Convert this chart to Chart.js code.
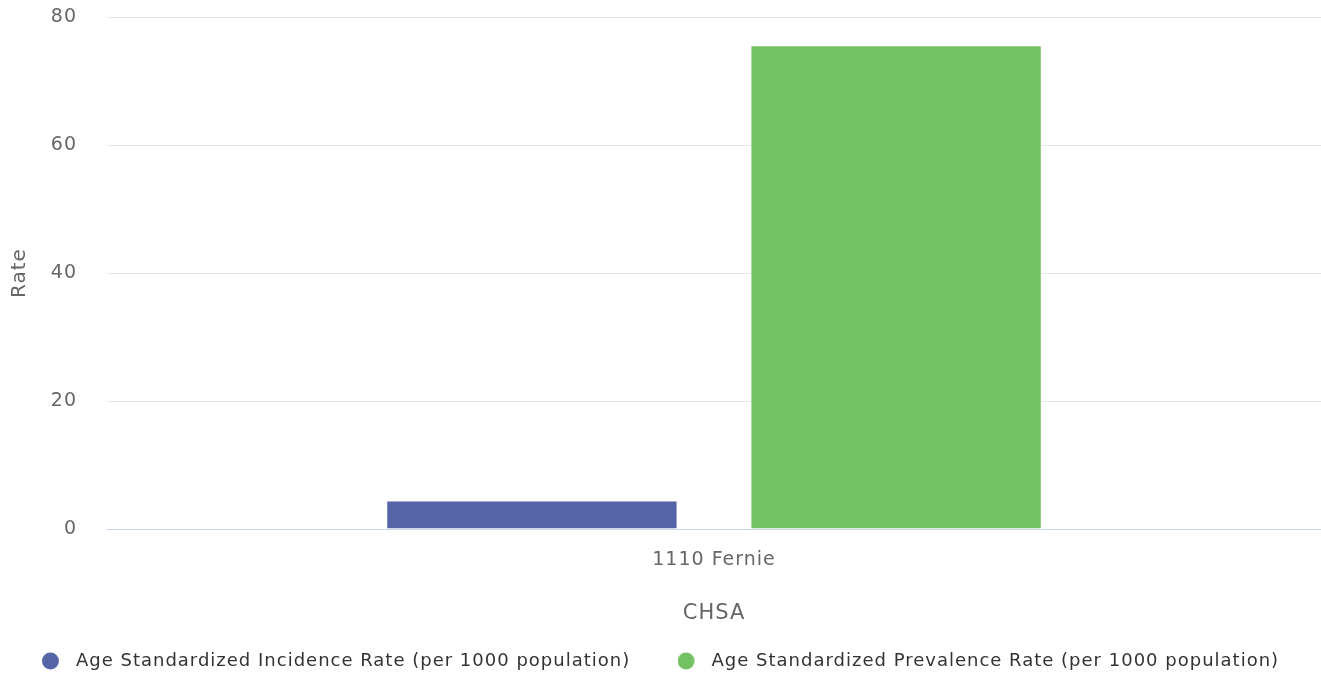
<!DOCTYPE html>
<html>
<head>
<meta charset="utf-8">
<script src="https://cdn.jsdelivr.net/npm/chart.js@4"></script>
<style>
  html, body { margin: 0; padding: 0; background: #fff; }
  #wrap { width: 1321px; height: 677px; }
</style>
</head>
<body>
<div id="wrap"><canvas id="chart"></canvas></div>
<script>
const categories = ['1110 Fernie'];
const incidenceRate = [4.45];
const prevalenceRate = [75.6];
const seriesNames = [
  'Age Standardized Incidence Rate (per 1000 population)',
  'Age Standardized Prevalence Rate (per 1000 population)'
];
const seriesColors = ['#5564a7', '#73c163'];
const yTicks = [0, 20, 40, 60, 80];

const FONT = '"DejaVu Sans", Verdana, sans-serif';

// legend marker: 17px dot on the left of a 25px wide box
function dot(color) {
  const c = document.createElement('canvas');
  c.width = 25; c.height = 18;
  const g = c.getContext('2d');
  g.fillStyle = color;
  g.beginPath();
  g.arc(8.5, 9, 8.5, 0, Math.PI * 2);
  g.fill();
  return c;
}
const dots = seriesColors.map(dot);

// spread letters a little, like the original
const spacing = {
  id: 'spacing',
  beforeInit(chart) { chart.ctx.letterSpacing = '1px'; },
  beforeLayout(chart) { chart.ctx.letterSpacing = '1px'; },
  beforeDraw(chart) { chart.ctx.letterSpacing = '1px'; }
};

new Chart(document.getElementById('chart'), {
  type: 'bar',
  data: {
    labels: categories,
    datasets: [
      {
        label: seriesNames[0],
        data: incidenceRate,
        backgroundColor: seriesColors[0],
        borderColor: '#ffffff',
        borderWidth: 1
      },
      {
        label: seriesNames[1],
        data: prevalenceRate,
        backgroundColor: seriesColors[1],
        borderColor: '#ffffff',
        borderWidth: 1
      }
    ]
  },
  plugins: [spacing],
  options: {
    responsive: true,
    maintainAspectRatio: false,
    animation: false,
    categoryPercentage: 0.6,
    barPercentage: 0.8,
    layout: { padding: { top: 17, right: 0, left: 0, bottom: -3 } },
    plugins: {
      tooltip: { enabled: false },
      legend: {
        position: 'bottom',
        labels: {
          usePointStyle: true,
          pointStyleWidth: 25,
          boxHeight: 18,
          padding: 7,
          color: '#333333',
          font: { family: FONT, size: 18 },
          generateLabels(chart) {
            const items = Chart.defaults.plugins.legend.labels.generateLabels(chart);
            items.forEach((it, i) => {
              it.pointStyle = dots[i];
              // wider gap between the two entries
              if (i < items.length - 1) it.text += '      ';
            });
            return items;
          }
        }
      }
    },
    scales: {
      x: {
        afterFit(scale) { scale.height = 116; },
        grid: { display: false },
        border: { display: true, color: '#ccd6eb', width: 1 },
        ticks: {
          color: '#666666',
          padding: 12,
          font: { family: FONT, size: 19 }
        },
        title: {
          display: true,
          text: 'CHSA',
          color: '#666666',
          padding: { top: 0, bottom: 19 },
          font: { family: FONT, size: 21 }
        }
      },
      y: {
        min: 0,
        max: 80,
        afterBuildTicks(scale) { scale.ticks = yTicks.map(v => ({ value: v })); },
        afterFit(scale) { scale.width = 107; },
        grid: {
          color: ctx => ctx.tick && ctx.tick.value === 0 ? '#ccd6eb' : '#e6e6e6',
          tickColor: 'rgba(0,0,0,0)',
          tickLength: 25
        },
        border: { display: false },
        ticks: {
          color: '#666666',
          padding: 5,
          font: { family: FONT, size: 19 }
        },
        title: {
          display: true,
          text: 'Rate',
          color: '#666666',
          padding: { top: 8, bottom: 0 },
          font: { family: FONT, size: 20 }
        }
      }
    }
  }
});
</script>
</body>
</html>
